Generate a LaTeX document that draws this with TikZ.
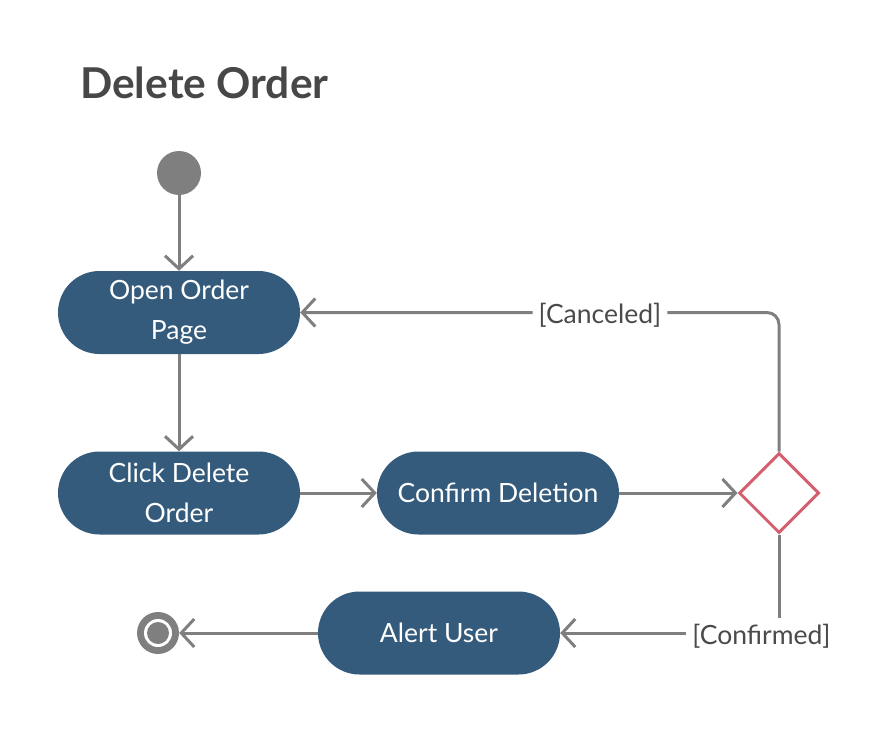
\documentclass[tikz,border=0pt]{standalone}
\usepackage{fontspec}
\setmainfont{Lato}
\usetikzlibrary{arrows.meta,shapes.geometric}
\definecolor{actfill}{HTML}{355B7C}
\definecolor{edgegray}{HTML}{7F7F7F}
\definecolor{labgray}{HTML}{4A4A4A}
\definecolor{decred}{HTML}{D4606F}
\definecolor{titlegray}{HTML}{474747}
\tikzset{
  activity/.style={draw=none,fill=actfill,rectangle,rounded corners=41.5pt,
    minimum width=242pt,minimum height=83pt,inner sep=0pt,text=white,
    align=center,font=\fontsize{26.5}{40}\selectfont},
  flow/.style={draw=edgegray,line width=3pt,
    -{Straight Barb[length=13pt,width=28pt,line width=3pt]}},
  guard/.style={fill=white,text=labgray,inner sep=6pt,yshift=-3pt,font=\fontsize{26.5}{30}\selectfont},
  decision/.style={diamond,draw=decred,line width=3pt,fill=white,
    minimum width=80pt,minimum height=80pt,inner sep=0pt,aspect=1},
}
\begin{document}
\begin{tikzpicture}[x=1pt,y=-1pt]
\useasboundingbox (0,0) rectangle (873,741);
\node[anchor=base west,text=titlegray,inner sep=0pt,font=\fontsize{42.5}{48}\selectfont\bfseries] (title) at (80,99) {Delete Order};
\node[circle,fill=edgegray,minimum size=44pt,inner sep=0pt] (start) at (179,173) {};
\node[activity] (open) at (179,312.5) {Open Order\\Page};
\node[activity] (click) at (179,493) {Click Delete\\Order};
\node[activity] (confirm) at (498,493) {Confirm Deletion};
\node[activity] (alert) at (439,633) {Alert User};
\node[decision] (dec) at (779,493) {};
\node[circle,fill=edgegray,minimum size=42pt,inner sep=0pt] (final) at (158,633) {};
\node[circle,fill=white,minimum size=28pt,inner sep=0pt] (finalring) at (final.center) {};
\node[circle,fill=edgegray,minimum size=22pt,inner sep=0pt] (finaldot) at (final.center) {};
\draw[flow] (start) -- (open);
\draw[flow] (open) -- (click);
\draw[flow] (click) -- (confirm);
\draw[flow] (confirm) -- (dec);
\draw[flow,rounded corners=12pt] (dec.north) |- (open.east) node[guard,pos=0.687] {[Canceled]};
\draw[flow] (dec.south) |- (alert.east) node[guard,pos=0.54] {[Confirmed]};
\draw[flow] (alert) -- (final);
\end{tikzpicture}
\end{document}
